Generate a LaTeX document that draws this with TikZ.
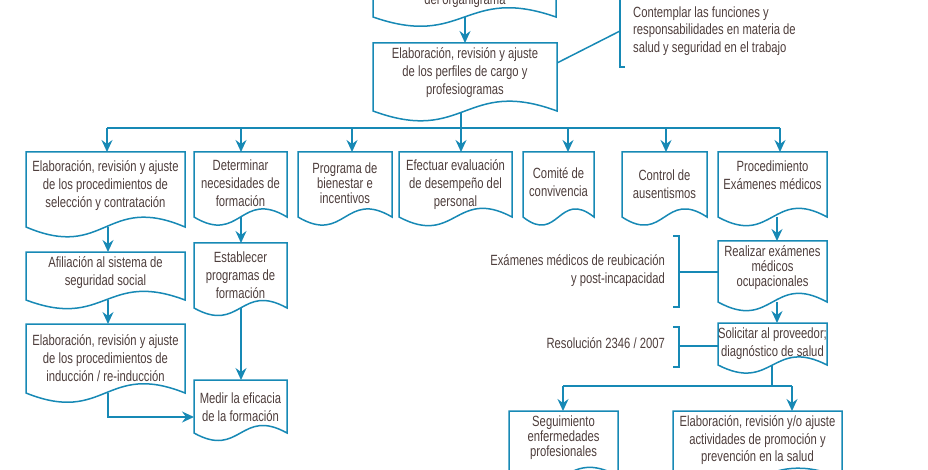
\documentclass[tikz,border=0pt]{standalone}
\usepackage{fontspec}
\setmainfont{Liberation Sans}[FakeStretch=0.76]
\usetikzlibrary{arrows.meta,calc,backgrounds,fit}
\definecolor{lc}{RGB}{23,137,181}
\definecolor{tc}{RGB}{78,62,60}
\newcommand\docshape[2][30]{\draw[ln,fill=white] (#2.north west) -- (#2.north east) -- (#2.south east) .. controls ($(#2.south)+(0pt,#1pt)$) and ($(#2.south)-(0pt,#1pt)$) .. (#2.south west) -- cycle;}
\begin{document}
\begin{tikzpicture}[x=1pt,y=-1pt,
  ln/.style={draw=lc,line width=1.5pt},
  arr/.style={ln,-{Stealth[length=12pt,width=11pt,inset=4pt]}},
  bxn/.style={inner sep=0pt,outer sep=0pt},
  txt/.style={inner sep=0pt,align=center,text=tc,font=\fontsize{14.8}{18}\selectfont},
  txtt/.style={txt,font=\fontsize{14.8}{15}\selectfont}]
\useasboundingbox (0,0) rectangle (928,470);
\clip (0,0) rectangle (928,470);
% box nodes
\node[bxn,fit={(373,-50) (556,17)}] (b0) {};
\node[bxn,fit={(373,43) (557,111)}] (b2) {};
\node[bxn,fit={(26,152) (185,227)}] (r1) {};
\node[bxn,fit={(194,152) (287,217)}] (r2) {};
\node[bxn,fit={(298,152) (392,217)}] (r3) {};
\node[bxn,fit={(399,152) (512,217)}] (r4) {};
\node[bxn,fit={(523,152) (594,217)}] (r5) {};
\node[bxn,fit={(622,152) (707,217)}] (r6) {};
\node[bxn,fit={(718,152) (827,217)}] (r7) {};
\node[bxn,fit={(26,252) (185,300)}] (a1) {};
\node[bxn,fit={(26,324) (185,393)}] (a2) {};
\node[bxn,fit={(194,243) (287,308)}] (e1) {};
\node[bxn,fit={(194,380) (287,433)}] (e2) {};
\node[bxn,fit={(718,241) (827,302)}] (m1) {};
\node[bxn,fit={(718,323) (827,365)}] (m2) {};
\node[bxn,fit={(509,411) (618,476)}] (s1) {};
\node[bxn,fit={(673,411) (842,478)}] (s2) {};
% texts
\node[txt] (t0) at (465,1) {del organigrama};
\node[txt] (t2) at (465,73) {Elaboración, revisión y ajuste\\de los perfiles de cargo y\\profesiogramas};
\node[txt] (tr1) at (105.5,185.5) {Elaboración, revisión y ajuste\\de los procedimientos de\\selección y contratación};
\node[txt] (tr2) at (240.5,183) {Determinar\\necesidades de\\formación};
\node[txtt] (tr3) at (345,183) {Programa de\\bienestar e\\incentivos};
\node[txt] (tr4) at (455.5,185) {Efectuar evaluación\\de desempeño del\\personal};
\node[txt] (tr5) at (558.5,182.5) {Comité de\\convivencia};
\node[txt] (tr6) at (664.5,184) {Control de\\ausentismos};
\node[txt] (tr7) at (772.5,175.5) {Procedimiento\\Exámenes médicos};
\node[txt] (ta1) at (105.5,272.5) {Afiliación al sistema de\\seguridad social};
\node[txt] (ta2) at (105.5,358) {Elaboración, revisión y ajuste\\de los procedimientos de\\inducción / re-inducción};
\node[txt] (te1) at (240.5,275) {Establecer\\programas de\\formación};
\node[txt] (te2) at (240.5,407) {Medir la eficacia\\de la formación};
\node[txtt] (tm1) at (772.5,268) {Realizar exámenes\\médicos\\ocupacionales};
\node[txt] (tm2) at (772.5,344) {Solicitar al proveedor;\\diagnóstico de salud};
\node[txtt] (ts1) at (563.5,438) {Seguimiento\\enfermedades\\profesionales};
\node[txt,font=\fontsize{14.8}{17.5}\selectfont] (ts2) at (757.5,440.5) {Elaboración, revisión y/o ajuste\\actividades de promoción y\\prevención en la salud};
\node[txt,align=right,anchor=east] (tb1) at (665,271) {Exámenes médicos de reubicación\\y post-incapacidad};
\node[txt,align=right,anchor=east] (tb2) at (665,343) {Resolución 2346 / 2007};
\node[txt,align=left,anchor=west,font=\fontsize{14.8}{17.5}\selectfont] (tc) at (633,31) {Contemplar las funciones y\\responsabilidades en materia de\\salud y seguridad en el trabajo};
% coordinates
\coordinate (bus) at (461,128);
\coordinate (d1) at (107,128);
\coordinate (d2) at (241,128);
\coordinate (d3) at (352,128);
\coordinate (d4) at (461,128);
\coordinate (d5) at (568,128);
\coordinate (d6) at (666,128);
\coordinate (d7) at (780,128);
\coordinate (pa) at (108,0);
\coordinate (kk) at (108,417);
\coordinate (pd) at (241,0);
\coordinate (p7) at (777,0);
\coordinate (q) at (772,386);
\coordinate (q1) at (563,386);
\coordinate (q2) at (792,386);
\coordinate (c2) at (557,63);
\coordinate (cb) at (620,31);
\coordinate (k1) at (679,272);
\coordinate (k2) at (679,346);
\begin{scope}[on background layer]
  % connectors
  \draw[arr] (b2.north |- b0.south) -- (b2.north);
  \draw[ln] (bus |- b2.south) -- (bus);
  \draw[ln] (d1) -- (d7);
  \foreach \d/\r in {d1/r1,d2/r2,d3/r3,d4/r4,d5/r5,d6/r6,d7/r7}
    \draw[arr] (\d) -- (\d |- \r.north);
  \draw[arr] (pa |- r1.south) -- (pa |- a1.north);
  \draw[arr] (pa |- a1.south) -- (pa |- a2.north);
  \draw[arr] (pa |- a2.south) -- (kk) -- (kk -| e2.west);
  \draw[arr] (pd |- r2.south) -- (pd |- e1.north);
  \draw[arr] (pd |- e1.south) -- (pd |- e2.north);
  \draw[arr] (p7 |- r7.south) -- (p7 |- m1.north);
  \draw[arr] (p7 |- m1.south) -- (p7 |- m2.north);
  \draw[ln] (q |- m2.south) -- (q);
  \draw[ln] (q1) -- (q2);
  \draw[arr] (q1) -- (q1 |- s1.north);
  \draw[arr] (q2) -- (q2 |- s2.north);
  % brackets
  \draw[ln] (620,-5) -- (620,67) -- (625,67);
  \draw[ln] (c2) -- (cb);
  \draw[ln] (673,236) -- (679,236) -- (679,307) -- (673,307);
  \draw[ln] (k1) -- (k1 -| m1.west);
  \draw[ln] (673,327) -- (679,327) -- (679,367) -- (673,367);
  \draw[ln] (k2) -- (k2 -| m2.west);
  % document shapes
  \docshape[32]{b0}
  \docshape[34]{b2}
  \docshape[34]{r1}
  \docshape[28]{r2}
  \docshape[28]{r3}
  \docshape[30]{r4}
  \docshape[28]{r5}
  \docshape[28]{r6}
  \docshape[30]{r7}
  \docshape[30]{a1}
  \docshape[32]{a2}
  \docshape[26]{e1}
  \docshape[26]{e2}
  \docshape[30]{m1}
  \docshape[28]{m2}
  \docshape[30]{s1}
  \docshape[34]{s2}
\end{scope}
\end{tikzpicture}
\end{document}
